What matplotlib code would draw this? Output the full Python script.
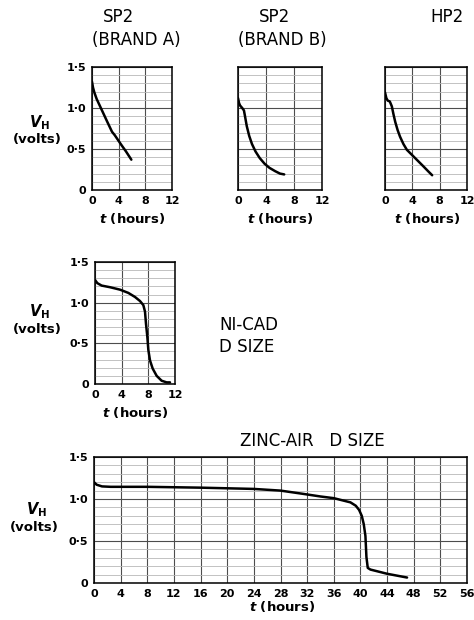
import numpy as np
import matplotlib.pyplot as plt

plt.rcParams["mathtext.fontset"] = "dejavusans"

# discharge curves (t in hours, V_H in volts)
sp2a_t = [0, 0.15, 0.35, 0.7, 1.1, 1.5, 1.9, 2.3, 2.65, 3.0, 3.4, 3.9, 4.4, 5.1, 5.9]
sp2a_v = [1.32, 1.25, 1.19, 1.11, 1.04, 0.97, 0.90, 0.83, 0.77, 0.71, 0.67, 0.61, 0.55, 0.47, 0.37]

sp2b_t = [0, 0.15, 0.3, 0.6, 0.85, 1.0, 1.25, 1.6, 2.0, 2.5, 3.1, 3.8, 4.5, 5.3, 6.0, 6.6]
sp2b_v = [1.12, 1.06, 1.03, 1.00, 0.97, 0.90, 0.78, 0.66, 0.56, 0.47, 0.39, 0.32, 0.27, 0.23, 0.20, 0.19]

hp2_t = [0, 0.2, 0.4, 0.7, 1.0, 1.25, 1.5, 1.85, 2.2, 2.7, 3.2, 3.8, 4.4, 5.0, 5.6, 6.3, 6.9]
hp2_v = [1.19, 1.12, 1.09, 1.08, 1.02, 0.92, 0.83, 0.73, 0.65, 0.56, 0.49, 0.44, 0.39, 0.34, 0.29, 0.23, 0.18]

nicad_t = [0, 0.35, 1.0, 2.25, 3.75, 5.0, 6.0, 6.75, 7.25, 7.5, 7.65, 7.85, 8.0, 8.25, 8.65,
           9.25, 10.0, 10.75, 11.25]
nicad_v = [1.28, 1.24, 1.21, 1.19, 1.16, 1.12, 1.07, 1.02, 0.97, 0.89, 0.74, 0.58, 0.42, 0.29, 0.19,
           0.10, 0.04, 0.02, 0.02]

zinc_t = [0, 0.4, 1.2, 2.5, 8, 16, 24, 28, 31.5, 34, 36, 37.5, 38.5, 39.3, 39.8, 40.2, 40.5,
          40.75, 40.9, 41.1, 41.5, 42, 44, 47]
zinc_v = [1.20, 1.17, 1.15, 1.145, 1.145, 1.135, 1.12, 1.10, 1.06, 1.03, 1.01, 0.98, 0.96, 0.92,
          0.87, 0.80, 0.70, 0.56, 0.31, 0.18, 0.16, 0.15, 0.11, 0.065]

small_xticks = [0, 4, 8, 12]
zinc_xticks = list(range(0, 57, 4))
vticks = [0, 0.5, 1.0, 1.5]
vtick_labels = ["0", "0·5", "1·0", "1·5"]

W, H = 474, 620
fig = plt.figure(figsize=(W / 100, H / 100), dpi=100)


def rect(l, t, r, b):
    return [l / W, 1 - b / H, (r - l) / W, (b - t) / H]


def px(x, y):
    return x / W, 1 - y / H


def chart(box, t, v, xticks, show_y=True):
    ax = fig.add_axes(rect(*box))
    ax.plot(t, v, color="black", lw=1.8, solid_capstyle="round", solid_joinstyle="round")
    ax.set_xlim(xticks[0], xticks[-1])
    ax.set_ylim(0, 1.5)
    ax.set_xticks(xticks)
    ax.set_xticklabels([str(x) for x in xticks], fontweight="bold")
    ax.set_yticks(vticks)
    ax.set_yticks(np.arange(0, 1.51, 0.1), minor=True)
    if show_y:
        ax.set_yticklabels(vtick_labels, fontweight="bold")
    else:
        ax.set_yticklabels([])
    ax.tick_params(which="both", length=0, labelsize=8, pad=4)
    ax.grid(which="major", color="0.3", lw=0.8)
    ax.grid(which="minor", axis="y", color="0.72", lw=0.6)
    ax.set_axisbelow(True)
    for s in ax.spines.values():
        s.set_linewidth(1.1)
    return ax


chart((92, 67, 172, 190), sp2a_t, sp2a_v, small_xticks)
chart((238, 67, 322, 190), sp2b_t, sp2b_v, small_xticks, show_y=False)
chart((385, 67, 467, 190), hp2_t, hp2_v, small_xticks, show_y=False)
chart((95, 262, 175, 384), nicad_t, nicad_v, small_xticks)
chart((94, 457, 467, 583), zinc_t, zinc_v, zinc_xticks)

txt = dict(ha="center", va="center", fontsize=12)
fig.text(*px(118, 17), "SP2", **txt)
fig.text(*px(136, 40), "(BRAND A)", **txt)
fig.text(*px(274, 17), "SP2", **txt)
fig.text(*px(282, 40), "(BRAND B)", **txt)
fig.text(*px(447, 17), "HP2", **txt)

lab = dict(ha="center", va="center", fontsize=9.5, fontweight="bold")
for x, y in [(132, 218), (280, 218), (427, 218), (135, 413), (282, 606)]:
    fig.text(*px(x, y), "$\\mathbfit{t}$ (hours)", **lab)

for x, y in [(40, 123), (40, 312), (37, 510)]:
    fig.text(*px(x, y), "$\\mathbfit{V}_{\\mathbf{H}}$", ha="center", va="center", fontsize=10.5)
    fig.text(*px(x - 3, y + 17), "(volts)", **lab)

fig.text(*px(219, 325), "NI-CAD", ha="left", va="center", fontsize=12)
fig.text(*px(219, 347), "D SIZE", ha="left", va="center", fontsize=12)
fig.text(*px(240, 441), "ZINC-AIR   D SIZE", ha="left", va="center", fontsize=12)

fig.savefig("out.png", dpi=100)
